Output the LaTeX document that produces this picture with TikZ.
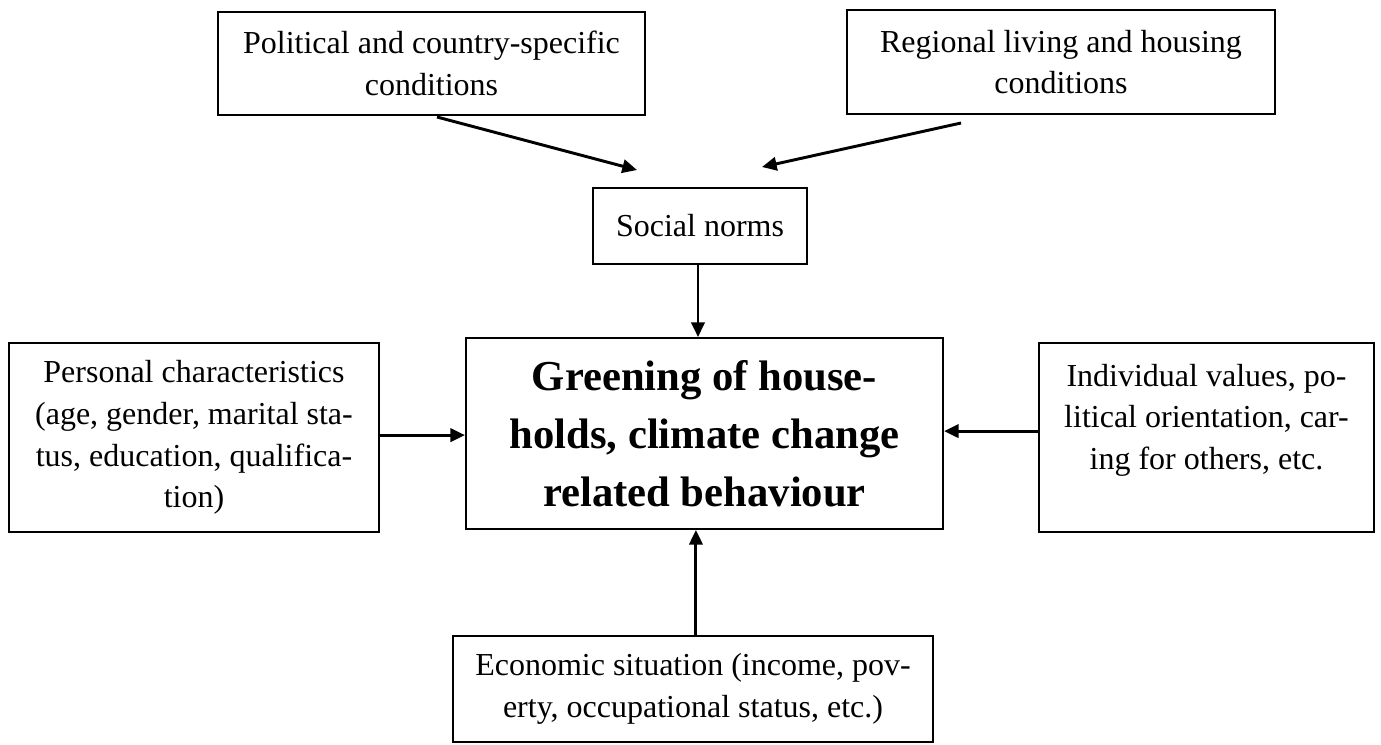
\documentclass[tikz,border=0pt]{standalone}
\usepackage{fontspec}
\setmainfont{Liberation Serif}
\usetikzlibrary{arrows.meta}
\tikzset{
	factor/.style = {draw=black, line width=0.75pt, align=center, inner sep=0pt, font=\fontsize{12}{15.6}\selectfont},
	goalbox/.style = {factor, font=\fontsize{16}{21.75}\selectfont\bfseries},
	influence/.style = {-{Triangle[length=5.5pt,width=5pt]}, line width=1.1pt},
}

\begin{document}
\begin{tikzpicture}[x=0.375pt, y=-0.375pt]
	\useasboundingbox (0,0) rectangle (1381,744);
	
	\node[factor, minimum width=160.1pt, minimum height=38.6pt] (pol) at (431.5, 63.5) {Political and country-specific\\conditions};
	\node[factor, minimum width=160.5pt, minimum height=39pt] (reg) at (1061, 62) {Regional living and housing\\conditions};
	\node[factor, minimum width=80.25pt, minimum height=28.5pt] (soc) at (700, 226) {Social norms};
	\node[goalbox, minimum width=178.9pt, minimum height=71.6pt] (goal) at (704.5, 433.5) {Greening of house-\\holds, climate change\\related behaviour};
	\node[factor, minimum width=138.75pt, minimum height=70.9pt] (pers) at (194, 437.5) {Personal characteristics\\(age, gender, marital sta-\\tus, education, qualifica-\\tion)};
	\node[factor, minimum width=125.6pt, minimum height=70.9pt] (indiv) at (1206.5, 437.5) {Individual values, po-\\litical orientation, car-\\ing for others, etc.\\~};
	\node[factor, minimum width=180pt, minimum height=39.75pt] (econ) at (693, 689) {Economic situation (income, pov-\\erty, occupational status, etc.)};
	
	\coordinate (pol-tail) at (437, 117);
	\coordinate (pol-tip) at (637, 170);
	\coordinate (reg-tail) at (961, 123);
	\coordinate (reg-tip) at (762, 167);
	
	\draw[influence] (pol-tail) -- (pol-tip);
	\draw[influence] (reg-tail) -- (reg-tip);
	\draw[influence] ([xshift=-0.75pt]soc.south) -- ([xshift=-0.75pt]soc.south |- goal.north);
	\draw[influence] ([yshift=0.9pt]pers.east) -- ([yshift=0.9pt]pers.east -| goal.west);
	\draw[influence] ([yshift=2.4pt]indiv.west) -- ([yshift=2.4pt]indiv.west -| goal.east);
	\draw[influence] ([xshift=1.1pt]econ.north) -- ([xshift=1.1pt]econ.north |- goal.south);
\end{tikzpicture}
\end{document}
